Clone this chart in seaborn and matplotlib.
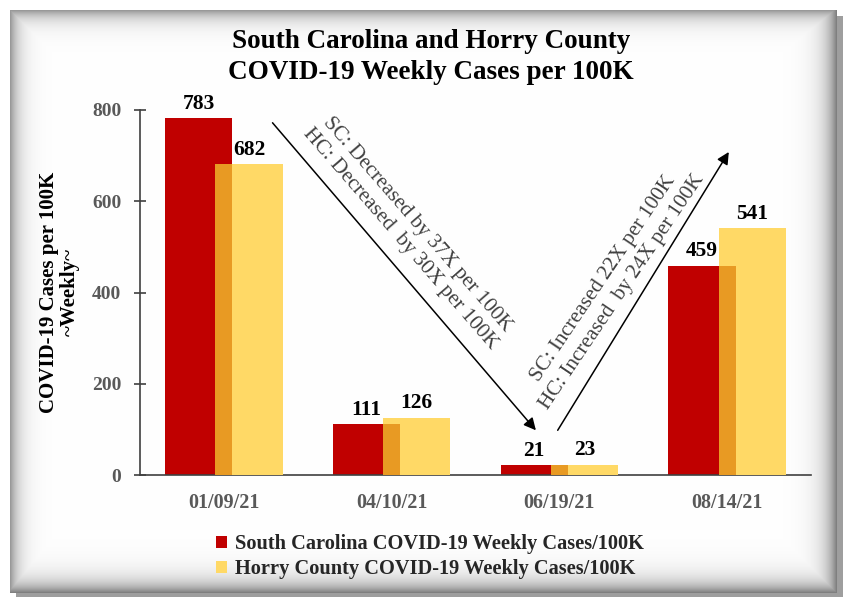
import numpy as np
import pandas as pd
import matplotlib
matplotlib.use("Agg")
import matplotlib.pyplot as plt
import seaborn as sns

# ---- data -------------------------------------------------------------
dates = ["01/09/21", "04/10/21", "06/19/21", "08/14/21"]
sc_cases = [783, 111, 21, 459]
hc_cases = [682, 126, 23, 541]
sc_label = "South Carolina COVID-19 Weekly Cases/100K"
hc_label = "Horry County COVID-19 Weekly Cases/100K"
y_ticks = [0, 200, 400, 600, 800]
note_down = "SC: Decreased by 37X per 100K\nHC: Decreased  by 30X per 100K"
note_up = "SC: Increased 22X per 100K\nHC: Increased  by 24X per 100K"

RED = "#C00000"
GOLD = "#FFD966"
OVERLAP = "#E89A23"
AXIS_GRAY = "#404040"
TICK_GRAY = "#595959"

sns.set_theme(style="white")
plt.rcParams["font.family"] = ["Liberation Serif", "DejaVu Serif"]

W, H = 843, 597
fig = plt.figure(figsize=(W / 100, H / 100), dpi=100)

# ---- framed background with soft inner shadow ---------------------------
bg_ax = fig.add_axes([0, 0, 1, 1], zorder=-10)
yy, xx = np.mgrid[0:H, 0:W].astype(float)
x0, y0, x1, y1 = 10, 10, 836, 592
d_left = xx - x0
d_top = yy - y0
d_right = x1 - xx
d_bottom = y1 - yy
dark = np.maximum.reduce([
    0.40 * np.exp(-np.clip(d_left, 0, None) / 9.0),
    0.40 * np.exp(-np.clip(d_top, 0, None) / 9.0),
    0.50 * np.exp(-np.clip(d_right, 0, None) / 11.0),
    0.50 * np.exp(-np.clip(d_bottom, 0, None) / 11.0),
])
shade = 1.0 - dark
inside = (xx >= x0) & (xx <= x1) & (yy >= y0) & (yy <= y1)
outside_shadow = (~inside) & ((xx > x1) | (yy > y1)) & (xx >= x0 + 6) & (yy >= y0 + 6)
shade = np.where(inside, shade, 1.0)
shade = np.where(outside_shadow, 0.62, shade)
bg_ax.imshow(np.dstack([shade] * 3), extent=[0, W, H, 0], aspect="auto",
             interpolation="bilinear")
bg_ax.set_axis_off()

# ---- main bar chart -------------------------------------------------------
ax = fig.add_axes([140 / W, 1 - 475 / H, 671 / W, 365 / H])
ax.patch.set_alpha(0)

bar_w = 0.40
shift = 0.15
bar_kw = dict(width=bar_w, saturation=1, linewidth=0, edgecolor="none")
sns.barplot(x=dates, y=sc_cases, color=RED, ax=ax, zorder=2,
            label=sc_label, **bar_kw)
sns.barplot(x=dates, y=hc_cases, color=GOLD, ax=ax, zorder=3,
            label=hc_label, **bar_kw)
overlap = [min(a, b) for a, b in zip(sc_cases, hc_cases)]
sns.barplot(x=dates, y=overlap, color=OVERLAP, ax=ax, zorder=4, **bar_kw)

red_c, gold_c, over_c = ax.containers[0], ax.containers[1], ax.containers[2]
for p in red_c.patches:
    p.set_x(p.get_x() - shift)
for p in gold_c.patches:
    p.set_x(p.get_x() + shift)
for p in over_c.patches:
    cx = p.get_x() + bar_w / 2
    p.set_x(cx + shift - bar_w / 2)
    p.set_width(bar_w - 2 * shift)

lab_kw = dict(fontsize=15.5, fontweight="bold", color="black", padding=3)
ax.bar_label(red_c, labels=[str(v) for v in sc_cases], **lab_kw)
ax.bar_label(gold_c, labels=[str(v) for v in hc_cases], **lab_kw)

ax.set_xlim(-0.5, 3.5)
ax.set_ylim(0, 800)
ax.set_yticks(y_ticks)
ax.set_yticklabels([str(t) for t in y_ticks], fontsize=14,
                   fontweight="bold", color=TICK_GRAY)
ax.set_xticks(range(len(dates)))
ax.set_xticklabels(dates, fontsize=14.5, fontweight="bold", color=TICK_GRAY)
ax.set_xticks(np.arange(-0.5, len(dates), 1.0), minor=True)
ax.tick_params(axis="x", which="major", length=0, pad=13)
ax.tick_params(axis="x", which="minor", direction="inout", length=9,
               width=1.2, color=AXIS_GRAY)
ax.tick_params(axis="y", direction="inout", length=9, width=1.2,
               color=AXIS_GRAY, pad=9, left=True)
for side in ("top", "right"):
    ax.spines[side].set_visible(False)
for side in ("left", "bottom"):
    ax.spines[side].set_color(AXIS_GRAY)
    ax.spines[side].set_linewidth(1.2)
ax.set_xlabel("")
ax.set_ylabel("COVID-19 Cases per 100K\n~Weekly~", fontsize=15,
              fontweight="bold", color="black", linespacing=1.1)
ax.yaxis.set_label_coords(-0.089, 0.5)
ax.grid(False)

# ---- trend arrows and notes ----------------------------------------------
arrow_kw = dict(arrowstyle="-|>", color="black", lw=1.1, mutation_scale=18,
                shrinkA=0, shrinkB=0)
ax.annotate("", xy=(1.86, 98), xytext=(0.29, 772), arrowprops=arrow_kw,
            zorder=6)
ax.annotate("", xy=(3.01, 708), xytext=(1.99, 98), arrowprops=arrow_kw,
            zorder=6)
ax.text(1.10, 533, note_down, rotation=-49, rotation_mode="anchor",
        ha="center", va="center", fontsize=15.2, color=AXIS_GRAY,
        linespacing=1.25, multialignment="center")
ax.text(2.32, 416, note_up, rotation=56, rotation_mode="anchor",
        ha="center", va="center", fontsize=15.2, color=AXIS_GRAY,
        linespacing=1.25, multialignment="center")

# ---- title and legend -----------------------------------------------------
fig.text(431 / W, 1 - 57 / H,
         "South Carolina and Horry County\nCOVID-19 Weekly Cases per 100K",
         ha="center", va="center", fontsize=19.5, fontweight="bold",
         color="black", linespacing=1.28)

handles, labels = ax.get_legend_handles_labels()
leg = fig.legend(handles[:2], labels[:2], loc="upper left",
                 bbox_to_anchor=(216 / W, 1 - 534 / H), frameon=False,
                 prop={"weight": "bold", "size": 14.7}, handlelength=0.55,
                 handleheight=0.55, handletextpad=0.4, labelspacing=0.25,
                 borderpad=0, borderaxespad=0)
if ax.get_legend() is not None:
    ax.get_legend().remove()

fig.savefig("out.png", dpi=100)
